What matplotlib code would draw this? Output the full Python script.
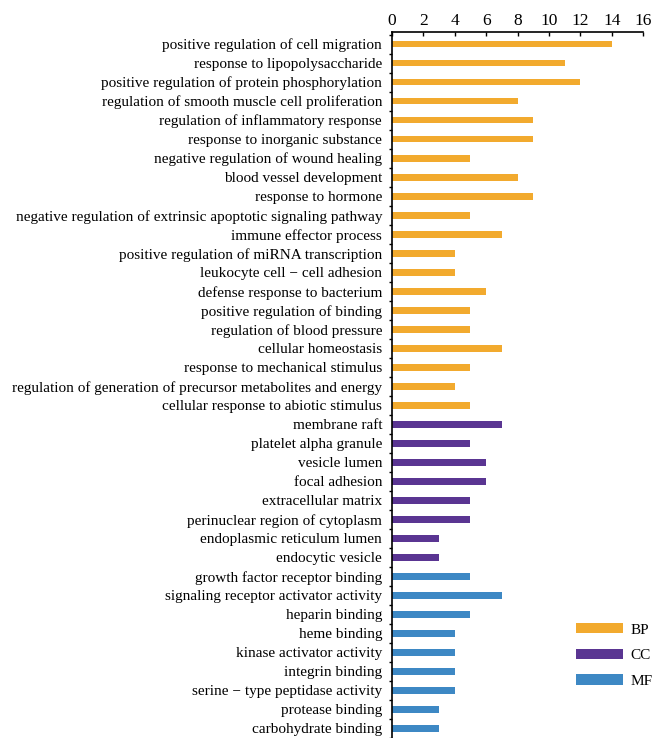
import matplotlib
matplotlib.use("Agg")
import matplotlib.pyplot as plt
from matplotlib.patches import Patch
import numpy as np

plt.rcParams['font.family'] = ['Liberation Serif', 'DejaVu Serif']

bp_terms = [
    "positive regulation of cell migration",
    "response to lipopolysaccharide",
    "positive regulation of protein phosphorylation",
    "regulation of smooth muscle cell proliferation",
    "regulation of inflammatory response",
    "response to inorganic substance",
    "negative regulation of wound healing",
    "blood vessel development",
    "response to hormone",
    "negative regulation of extrinsic apoptotic signaling pathway",
    "immune effector process",
    "positive regulation of miRNA transcription",
    "leukocyte cell \u2212 cell adhesion",
    "defense response to bacterium",
    "positive regulation of binding",
    "regulation of blood pressure",
    "cellular homeostasis",
    "response to mechanical stimulus",
    "regulation of generation of precursor metabolites and energy",
    "cellular response to abiotic stimulus",
]
bp_counts = [14, 11, 12, 8, 9, 9, 5, 8, 9, 5, 7, 4, 4, 6, 5, 5, 7, 5, 4, 5]

cc_terms = [
    "membrane raft",
    "platelet alpha granule",
    "vesicle lumen",
    "focal adhesion",
    "extracellular matrix",
    "perinuclear region of cytoplasm",
    "endoplasmic reticulum lumen",
    "endocytic vesicle",
]
cc_counts = [7, 5, 6, 6, 5, 5, 3, 3]

mf_terms = [
    "growth factor receptor binding",
    "signaling receptor activator activity",
    "heparin binding",
    "heme binding",
    "kinase activator activity",
    "integrin binding",
    "serine \u2212 type peptidase activity",
    "protease binding",
    "carbohydrate binding",
]
mf_counts = [5, 7, 5, 4, 4, 4, 4, 3, 3]

groups = ["BP", "CC", "MF"]
group_colors = {"BP": "#F2AA2E", "CC": "#5A3592", "MF": "#3D88C4"}

terms = bp_terms + cc_terms + mf_terms
counts = bp_counts + cc_counts + mf_counts
colors = ([group_colors["BP"]] * len(bp_terms)
          + [group_colors["CC"]] * len(cc_terms)
          + [group_colors["MF"]] * len(mf_terms))

fig = plt.figure(figsize=(6.53, 7.38), dpi=100)
ax = fig.add_axes([0.600, 0.0, 0.385, 0.9566])

y = np.arange(len(terms))
ax.barh(y, counts, height=0.36, color=colors)

ax.set_xlim(0, 16)
ax.set_ylim(len(terms) - 0.5, -0.63)
ax.set_xticks(np.arange(0, 17, 2))
ax.xaxis.tick_top()
ax.tick_params(axis='x', direction='in', length=3, width=1, pad=2, labelsize=12.5)

ax.set_yticks(y)
ax.set_yticklabels(terms, fontsize=11)
ax.tick_params(axis='y', which='major', length=0, pad=7)
ax.set_yticks(np.arange(len(terms) + 1) - 0.5, minor=True)
ax.tick_params(axis='y', which='minor', direction='out', length=2.5, width=1)

for side in ("right", "bottom"):
    ax.spines[side].set_visible(False)
for side in ("left", "top"):
    ax.spines[side].set_linewidth(1.2)

handles = [Patch(facecolor=group_colors[g], label=g) for g in groups]
fig.legend(handles=handles, loc='upper left', bbox_to_anchor=(0.873, 0.164),
           frameon=False, fontsize=11, handlelength=3.05, handleheight=0.65,
           labelspacing=0.8, handletextpad=0.5, borderaxespad=0.0)

fig.savefig("out.png", dpi=100)
